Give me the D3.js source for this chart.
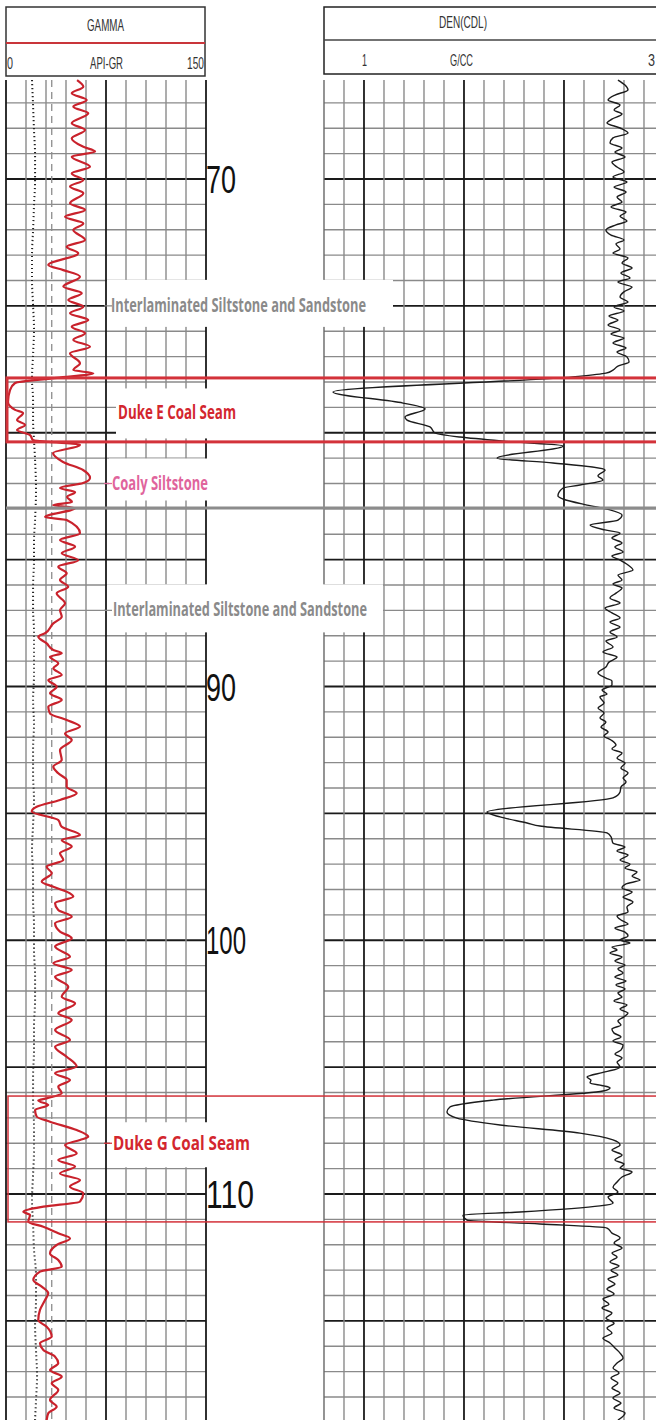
<!DOCTYPE html>
<html>
<head>
<meta charset="utf-8">
<script src="https://cdn.jsdelivr.net/npm/d3@7"></script>
<style>
  body { margin: 0; background: #fff; }
  svg { display: block; }
  .narrow { font-family: "Liberation Sans Narrow", "Liberation Sans", Arial, sans-serif; }
  .note { font-family: "Liberation Sans Narrow", "Open Sans", sans-serif; font-weight: bold; }
</style>
</head>
<body>
<svg id="chart" width="656" height="1420"></svg>
<script>
// gamma ray log: [depth, API]
const gammaLog = [
  [66.10,53.3],[66.36,58.0],[66.62,49.3],[66.89,60.5],[67.15,50.5],[67.41,61.7],[67.80,49.3],[68.07,59.3],
  [68.40,49.3],[68.73,58.0],[68.92,66.8],[69.12,49.3],[69.52,63.0],[69.78,49.3],[70.04,58.0],[70.30,48.0],
  [70.56,58.0],[70.96,48.0],[71.22,59.3],[71.49,44.3],[71.75,58.0],[72.01,50.5],[72.40,59.3],[72.67,45.5],
  [72.93,54.2],[73.39,31.7],[73.59,43.0],[73.85,55.5],[74.24,43.0],[74.50,56.8],[74.77,46.7],[75.03,58.0],
  [75.29,48.0],[75.56,61.7],[75.82,49.3],[76.08,59.3],[76.34,50.5],[76.61,63.0],[76.87,48.0],[77.26,55.5],
  [77.53,50.5],[77.66,65.5],[77.84,38.3],[78.04,6.8],[78.32,3.0],[78.79,1.5],[79.10,6.8],[79.22,12.8],
  [79.50,8.3],[79.69,14.3],[79.89,8.3],[80.09,18.0],[80.29,20.3],[80.48,55.5],[80.80,35.3],[81.15,42.8],
  [81.47,57.8],[81.78,63.0],[81.98,57.8],[82.18,40.5],[82.34,51.8],[82.53,45.8],[82.73,49.5],[82.85,35.3],
  [82.97,51.8],[83.32,29.3],[83.44,45.5],[83.96,55.5],[84.23,40.5],[84.49,51.8],[84.75,41.8],[85.02,54.2],
  [85.28,39.2],[85.54,45.5],[85.80,40.5],[86.07,46.7],[86.33,38.0],[86.72,44.3],[86.99,40.5],[87.25,41.8],
  [87.51,35.5],[87.90,29.3],[88.04,24.2],[88.30,30.5],[88.56,35.5],[88.69,41.8],[88.83,33.0],[89.09,39.2],
  [89.28,35.5],[89.55,41.8],[89.74,31.7],[90.01,38.0],[90.27,33.0],[90.53,41.8],[90.80,31.7],[91.06,33.0],
  [91.32,45.5],[91.58,55.5],[91.85,44.3],[92.11,49.3],[92.50,40.5],[92.90,41.8],[93.16,35.5],[93.42,39.2],
  [93.69,45.5],[93.95,45.5],[94.21,53.0],[94.47,40.5],[94.74,23.0],[94.93,19.3],[95.26,39.2],[95.53,41.8],
  [95.85,55.5],[96.05,41.8],[96.31,49.3],[96.57,40.5],[96.84,43.0],[97.10,30.5],[97.36,34.3],[97.69,26.8],
  [97.89,35.5],[98.15,48.0],[98.28,50.5],[98.54,36.8],[98.81,39.2],[99.07,49.3],[99.33,36.8],[99.66,40.5],
  [99.92,49.3],[100.25,36.8],[100.65,48.0],[100.91,35.5],[101.17,49.3],[101.44,36.8],[101.83,46.7],[102.23,41.8],
  [102.49,51.8],[102.88,39.2],[103.14,49.3],[103.54,36.8],[103.93,48.0],[104.20,36.8],[104.59,45.5],[104.98,53.0],
  [105.24,36.8],[105.51,48.0],[105.77,39.2],[106.03,41.8],[106.23,30.5],[106.32,24.2],[106.49,31.7],[106.69,21.8],
  [106.95,23.0],[107.15,33.0],[107.48,53.0],[107.74,61.7],[107.87,55.5],[108.07,44.3],[108.40,53.0],[108.66,39.2],
  [108.92,51.8],[109.19,40.5],[109.45,55.5],[109.71,48.0],[109.97,58.0],[110.30,55.5],[110.50,28.0],[110.70,13.0],
  [110.83,18.0],[111.09,16.7],[111.29,28.0],[111.55,39.2],[111.75,48.0],[112.01,38.0],[112.34,33.0],[112.60,39.2],
  [112.87,41.8],[113.06,25.5],[113.39,20.5],[113.65,26.8],[113.91,31.7],[114.18,29.3],[114.57,25.5],[114.97,24.2],
  [115.23,30.5],[115.62,34.3],[115.88,25.5],[116.15,28.0],[116.41,36.8],[116.67,39.2],[116.94,33.0],[117.20,41.8],
  [117.46,34.3],[117.72,39.2],[118.12,33.0],[118.38,38.0],[118.64,31.7],[118.91,30.5]
];

// bulk density log: [depth, g/cc]
const densityLog = [
  [66.10,2.693],[66.30,2.740],[66.49,2.760],[66.69,2.673],[66.89,2.627],[67.08,2.707],[67.28,2.667],[67.44,2.720],
  [67.64,2.653],[67.79,2.620],[67.99,2.707],[68.19,2.760],[68.38,2.660],[68.58,2.640],[68.78,2.720],[68.94,2.673],
  [69.13,2.740],[69.33,2.653],[69.53,2.687],[69.72,2.733],[69.92,2.660],[70.12,2.753],[70.32,2.667],[70.51,2.747],
  [70.71,2.687],[70.91,2.720],[71.10,2.647],[71.30,2.747],[71.46,2.707],[71.66,2.753],[71.81,2.680],[72.01,2.613],
  [72.21,2.647],[72.40,2.733],[72.56,2.680],[72.76,2.707],[72.92,2.660],[73.11,2.760],[73.31,2.720],[73.51,2.787],
  [73.70,2.713],[73.90,2.773],[74.06,2.693],[74.26,2.787],[74.45,2.733],[74.65,2.707],[74.85,2.760],[75.04,2.667],
  [75.20,2.733],[75.40,2.633],[75.56,2.693],[75.75,2.627],[75.95,2.707],[76.11,2.647],[76.27,2.733],[76.46,2.660],
  [76.66,2.747],[76.82,2.687],[77.01,2.753],[77.21,2.767],[77.37,2.693],[77.53,2.660],[77.65,2.613],[77.80,2.393],
  [78.39,0.793],[78.83,1.260],[79.06,1.407],[79.38,1.273],[79.50,1.287],[79.77,1.440],[80.01,1.473],[80.17,1.640],
  [80.36,1.993],[80.52,2.327],[81.00,1.887],[81.19,2.260],[81.47,2.607],[81.70,2.560],[81.86,2.593],[82.06,2.440],
  [82.18,2.327],[82.49,2.293],[82.61,2.327],[82.85,2.487],[83.04,2.640],[83.24,2.720],[83.44,2.693],[83.64,2.507],
  [83.83,2.607],[83.95,2.707],[84.15,2.653],[84.34,2.720],[84.50,2.673],[84.70,2.727],[84.86,2.653],[85.02,2.707],
  [85.21,2.760],[85.41,2.793],[85.61,2.693],[85.80,2.720],[85.96,2.660],[86.12,2.720],[86.32,2.680],[86.51,2.640],
  [86.71,2.707],[86.91,2.607],[87.10,2.653],[87.30,2.707],[87.46,2.640],[87.66,2.707],[87.85,2.640],[88.05,2.687],
  [88.21,2.613],[88.44,2.660],[88.64,2.593],[88.84,2.687],[89.04,2.633],[89.23,2.613],[89.47,2.560],[89.67,2.613],
  [89.78,2.653],[89.94,2.653],[90.14,2.587],[90.30,2.620],[90.41,2.573],[90.65,2.600],[90.85,2.560],[91.04,2.600],
  [91.24,2.573],[91.40,2.613],[91.60,2.580],[91.79,2.627],[91.95,2.600],[92.11,2.647],[92.31,2.680],[92.46,2.653],
  [92.62,2.720],[92.82,2.687],[93.02,2.740],[93.21,2.713],[93.41,2.760],[93.61,2.727],[93.76,2.747],[93.96,2.713],
  [94.16,2.707],[94.39,2.660],[94.95,1.820],[95.14,1.907],[95.38,2.087],[95.50,2.173],[95.77,2.620],[95.93,2.647],
  [96.17,2.660],[96.33,2.740],[96.48,2.687],[96.64,2.760],[96.84,2.707],[97.00,2.773],[97.15,2.740],[97.31,2.820],
  [97.47,2.787],[97.63,2.840],[97.78,2.747],[97.94,2.720],[98.10,2.787],[98.30,2.727],[98.49,2.793],[98.69,2.753],
  [98.89,2.760],[99.04,2.687],[99.20,2.713],[99.36,2.760],[99.52,2.673],[99.68,2.740],[99.83,2.760],[99.99,2.707],
  [100.11,2.773],[100.27,2.653],[100.38,2.687],[100.50,2.640],[100.66,2.720],[100.82,2.673],[100.98,2.740],[101.13,2.693],
  [101.29,2.727],[101.45,2.673],[101.61,2.747],[101.76,2.680],[101.92,2.740],[102.08,2.693],[102.24,2.720],[102.39,2.667],
  [102.55,2.753],[102.71,2.707],[102.87,2.760],[103.02,2.733],[103.18,2.693],[103.34,2.713],[103.50,2.653],[103.66,2.667],
  [103.81,2.713],[103.97,2.660],[104.13,2.727],[104.33,2.713],[104.48,2.673],[104.64,2.720],[104.80,2.687],[105.00,2.707],
  [105.19,2.607],[105.39,2.487],[105.51,2.513],[105.63,2.507],[105.74,2.600],[105.82,2.640],[105.94,2.593],[106.30,1.860],
  [106.57,1.573],[106.77,1.553],[107.01,1.620],[107.28,1.907],[107.60,2.440],[107.87,2.660],[108.07,2.707],[108.27,2.653],
  [108.46,2.720],[108.66,2.673],[108.82,2.733],[108.98,2.707],[109.13,2.787],[109.33,2.720],[109.53,2.687],[109.73,2.660],
  [109.92,2.693],[110.12,2.627],[110.36,2.660],[110.47,2.573],[110.71,2.040],[110.83,1.660],[111.03,1.687],[111.18,2.173],
  [111.34,2.620],[111.54,2.653],[111.73,2.707],[111.93,2.667],[112.13,2.720],[112.33,2.653],[112.48,2.687],[112.68,2.640],
  [112.84,2.700],[113.00,2.647],[113.19,2.693],[113.35,2.627],[113.55,2.673],[113.74,2.620],[113.94,2.667],[114.14,2.593],
  [114.34,2.633],[114.49,2.587],[114.69,2.653],[114.89,2.613],[115.09,2.667],[115.28,2.620],[115.48,2.653],[115.68,2.593],
  [115.87,2.640],[116.07,2.673],[116.27,2.707],[116.46,2.727],[116.66,2.687],[116.86,2.660],[117.05,2.700],[117.25,2.647],
  [117.45,2.693],[117.65,2.653],[117.84,2.707],[118.04,2.660],[118.24,2.713],[118.43,2.667],[118.63,2.740],[118.91,2.693]
];

// dotted companion trace in the gamma track: [depth, API]
const dottedLog = [
  [66.10,19.5],[67.10,20.3],[68.07,21.0],[69.05,21.8],[70.04,21.8],[71.02,21.0],[72.01,20.3],[73.00,19.5],
  [73.98,19.5],[74.97,20.3],[75.95,21.0],[76.94,20.3],[77.92,19.5],[78.71,20.3],[79.50,20.3],[80.29,21.0],
  [81.07,21.8],[82.26,22.5],[83.44,21.8],[84.23,21.0],[85.02,21.0],[86.00,20.3],[86.99,20.3],[87.78,21.0],
  [88.56,21.0],[89.55,21.0],[90.53,20.3],[91.52,21.0],[92.50,20.3],[93.49,20.3],[94.47,21.0],[95.46,20.3],
  [96.44,19.5],[97.43,20.3],[98.41,20.3],[99.40,21.0],[100.38,21.0],[101.37,21.8],[102.36,21.8],[103.34,21.0],
  [104.33,21.0],[105.31,20.3],[106.30,20.3],[107.28,21.0],[108.27,21.0],[109.25,20.3],[110.24,19.5],[111.22,20.3],
  [112.21,21.0],[113.20,22.5],[114.18,22.5],[115.17,21.8],[116.15,22.5],[117.13,23.3],[118.12,22.5],[118.91,21.8]
];

const gammaCutoff = 34.3;
const depthLabels = [70, 90, 100, 110];
const gammaTicks = d3.range(0, 151, 15);
const densityTicks = d3.range(0, 18).map(k => 0.7333 + k * 0.13333);

const coalSeams = [
  { name: "Duke E Coal Seam", top: 77.84, base: 80.36, label: 79.2 },
  { name: "Duke G Coal Seam", top: 106.14, base: 111.10, label: 108.0 }
];
const lithologyNotes = [
  { name: "Interlaminated Siltstone and Sandstone", depth: 75 },
  { name: "Coaly Siltstone", depth: 82 },
  { name: "Interlaminated Siltstone and Sandstone", depth: 87 }
];
const boundaryDepth = 82.97;

const svg = d3.select("#chart");
const W = 656, H = 1420;
const trackTop = 80;

const y = d3.scaleLinear().domain([70, 110]).range([179, 1194]);
const xGR = d3.scaleLinear().domain([0, 150]).range([6, 206]);
const xDen = d3.scaleLinear().domain([1, 3]).range([364, 664]);

const depthTop = y.invert(trackTop), depthBot = y.invert(H);
const depthTicks = d3.range(Math.ceil(depthTop), Math.floor(depthBot) + 1);

const grid = svg.append("g");

// horizontal grid in both tracks
[[6, 206], [324, 664]].forEach(([x0, x1]) => {
  grid.append("g").selectAll("line").data(depthTicks).join("line")
    .attr("x1", x0).attr("x2", x1)
    .attr("y1", d => y(d)).attr("y2", d => y(d))
    .attr("stroke", d => d % 5 === 0 ? "#1a1a1a" : "#8a8a8a")
    .attr("stroke-width", d => d % 5 === 0 ? 1.8 : 1.4);
});

// vertical grid, gamma track
grid.append("g").selectAll("line").data(gammaTicks).join("line")
  .attr("x1", d => xGR(d)).attr("x2", d => xGR(d))
  .attr("y1", trackTop).attr("y2", H)
  .attr("stroke", (d, i) => i % 5 === 0 ? "#1a1a1a" : "#8a8a8a")
  .attr("stroke-width", (d, i) => i % 5 === 0 ? 1.8 : 1.4);

// vertical grid, density track
grid.append("g").selectAll("line").data(densityTicks).join("line")
  .attr("x1", d => xDen(d)).attr("x2", d => xDen(d))
  .attr("y1", trackTop).attr("y2", H)
  .attr("stroke", (d, i) => i % 5 === 2 ? "#1a1a1a" : (i === 0 ? "#666" : "#8a8a8a"))
  .attr("stroke-width", (d, i) => i % 5 === 2 ? 1.8 : 1.4);

// depth numbers
const labelWidth = { 70: 30, 90: 30, 100: 40, 110: 48 };
const depthAxis = d3.axisRight(y).tickValues(depthLabels).tickSize(0).tickPadding(0).tickFormat(d3.format("d"));
const dAx = svg.append("g").attr("transform", "translate(206,0)").call(depthAxis);
dAx.select(".domain").remove();
dAx.selectAll("text")
  .attr("class", "narrow")
  .attr("font-size", 38)
  .attr("fill", "#111")
  .attr("dy", "0.36em")
  .attr("textLength", d => labelWidth[d])
  .attr("lengthAdjust", "spacingAndGlyphs");

// white label patches
const patches = [
  { depth: 75, x0: 107, x1: 393, h0: 26, h1: 21 },
  { depth: 87, x0: 107, x1: 383, h0: 26, h1: 22 },
  { depth: 82, x0: 109, x1: 215, h0: 25, h1: 17 },
  { depth: 79.2, x0: 116, x1: 248, h0: 24, h1: 26 },
  { depth: 108, x0: 110, x1: 258, h0: 21, h1: 24 }
];
svg.append("g").selectAll("rect").data(patches).join("rect")
  .attr("x", d => d.x0).attr("width", d => d.x1 - d.x0)
  .attr("y", d => y(d.depth) - d.h0).attr("height", d => d.h0 + d.h1)
  .attr("fill", "#fff");

// cutoff dashed line and dotted trace
svg.append("line")
  .attr("x1", xGR(gammaCutoff)).attr("x2", xGR(gammaCutoff))
  .attr("y1", trackTop).attr("y2", H)
  .attr("stroke", "#8c8c8c").attr("stroke-width", 1.3)
  .attr("stroke-dasharray", "7,5");

const lineGR = d3.line().x(d => xGR(d[1])).y(d => y(d[0])).curve(d3.curveMonotoneY);
const lineDen = d3.line().x(d => xDen(d[1])).y(d => y(d[0])).curve(d3.curveMonotoneY);

svg.append("path").datum(dottedLog)
  .attr("d", lineGR).attr("fill", "none")
  .attr("stroke", "#222").attr("stroke-width", 2)
  .attr("stroke-dasharray", "1.2,2.8");

svg.append("path").datum(gammaLog)
  .attr("d", lineGR).attr("fill", "none")
  .attr("stroke", "#c9222c").attr("stroke-width", 2.2)
  .attr("stroke-linejoin", "round");

svg.append("path").datum(densityLog)
  .attr("d", lineDen).attr("fill", "none")
  .attr("stroke", "#1c1c1c").attr("stroke-width", 1.4)
  .attr("stroke-linejoin", "round");

// formation boundary
svg.append("line")
  .attr("x1", 6).attr("x2", W)
  .attr("y1", y(boundaryDepth)).attr("y2", y(boundaryDepth))
  .attr("stroke", "#8c8c8c").attr("stroke-width", 3);

// coal seam boxes
svg.append("g").selectAll("rect").data(coalSeams).join("rect")
  .attr("x", (d, i) => i === 0 ? 7 : 8)
  .attr("y", d => y(d.top))
  .attr("width", 700)
  .attr("height", d => y(d.base) - y(d.top))
  .attr("fill", "none")
  .attr("stroke", "#d3323a")
  .attr("stroke-width", (d, i) => i === 0 ? 3 : 1.5);

// leader ticks
const leaders = [75, 82, 87, 108];
svg.append("g").selectAll("line").data(leaders).join("line")
  .attr("x1", 104).attr("x2", 112)
  .attr("y1", d => y(d)).attr("y2", d => y(d))
  .attr("stroke", d => d === 82 ? "#e06a9c" : (d === 108 ? "#d3323a" : "#8a8a8a"))
  .attr("stroke-width", 1.3);

// lithology text
const noteLayout = [
  { x: 111, len: 255, color: "#8a8a8a" },
  { x: 112, len: 96, color: "#e0649c" },
  { x: 113, len: 254, color: "#8a8a8a" }
];
svg.append("g").selectAll("text").data(lithologyNotes).join("text")
  .attr("class", "note")
  .attr("x", (d, i) => noteLayout[i].x)
  .attr("y", d => y(d.depth) + 6)
  .attr("font-size", 19)
  .attr("textLength", (d, i) => noteLayout[i].len)
  .attr("lengthAdjust", "spacingAndGlyphs")
  .attr("fill", (d, i) => noteLayout[i].color)
  .text(d => d.name);

svg.append("g").selectAll("text").data(coalSeams).join("text")
  .attr("class", "note")
  .attr("x", (d, i) => i === 0 ? 118 : 113)
  .attr("y", d => y(d.label) + 7)
  .attr("font-size", 19)
  .attr("textLength", (d, i) => i === 0 ? 118 : 137)
  .attr("lengthAdjust", "spacingAndGlyphs")
  .attr("fill", "#d3262e")
  .text(d => d.name);

// headers
const hdr = svg.append("g").attr("class", "narrow").attr("fill", "#333");
hdr.append("rect").attr("x", 6).attr("y", 7).attr("width", 199).attr("height", 69)
  .attr("fill", "#fff").attr("stroke", "#333").attr("stroke-width", 1.5);
hdr.append("line").attr("x1", 6).attr("x2", 205).attr("y1", 43).attr("y2", 43)
  .attr("stroke", "#c9353a").attr("stroke-width", 2.2);
hdr.append("rect").attr("x", 324).attr("y", 7).attr("width", 340).attr("height", 67)
  .attr("fill", "#fff").attr("stroke", "#222").attr("stroke-width", 1.5);
hdr.append("line").attr("x1", 324).attr("x2", 664).attr("y1", 40).attr("y2", 40)
  .attr("stroke", "#444").attr("stroke-width", 1.5);

const hdrText = [
  { t: "GAMMA", x: 105.5, y: 31, a: "middle", len: 37 },
  { t: "0", x: 7, y: 69, a: "start", len: 6 },
  { t: "API-GR", x: 106.5, y: 69, a: "middle", len: 33 },
  { t: "150", x: 204, y: 69, a: "end", len: 17 },
  { t: "DEN(CDL)", x: 463, y: 28, a: "middle", len: 48 },
  { t: "1", x: 364.5, y: 66, a: "middle", len: 5 },
  { t: "G/CC", x: 461.5, y: 66, a: "middle", len: 23 },
  { t: "3", x: 648, y: 66, a: "start", len: 7 }
];
hdr.selectAll("text").data(hdrText).join("text")
  .attr("x", d => d.x).attr("y", d => d.y)
  .attr("text-anchor", d => d.a)
  .attr("font-size", 17)
  .attr("textLength", d => d.len)
  .attr("lengthAdjust", "spacingAndGlyphs")
  .text(d => d.t);
</script>
</body>
</html>
